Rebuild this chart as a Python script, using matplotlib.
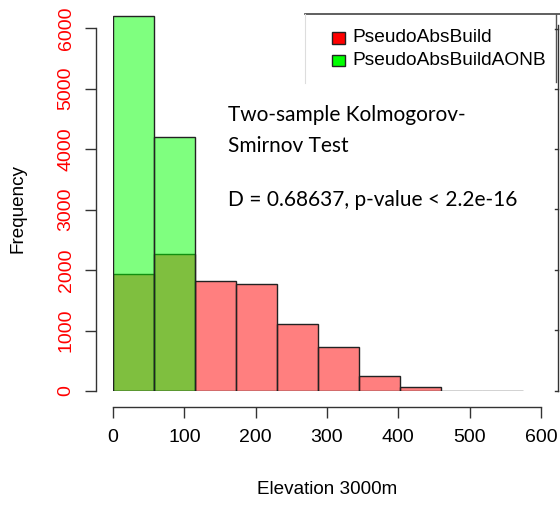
import matplotlib
matplotlib.use("Agg")
import matplotlib.pyplot as plt
from matplotlib.lines import Line2D
from matplotlib.patches import Rectangle

# ---- data ----
bin_edges = [0, 57.5, 115, 172.5, 230, 287.5, 345, 402.5, 460, 517.5, 575]
red_counts = [1940, 2271, 1825, 1769, 1114, 727, 254, 72, 0, 0]
green_counts = [6205, 4198]
x_ticks = [0, 100, 200, 300, 400, 500, 600]
y_ticks = [0, 1000, 2000, 3000, 4000, 5000, 6000]
series_names = ["PseudoAbsBuild", "PseudoAbsBuildAONB"]
x_label = "Elevation 3000m"
y_label = "Frequency"
annot_lines = ["Two-sample Kolmogorov-", "Smirnov Test", "", "D = 0.68637, p-value < 2.2e-16"]

W, H = 560, 505
fig = plt.figure(figsize=(W / 100, H / 100), dpi=100)
plt.rcParams['font.family'] = ['Liberation Sans', 'DejaVu Sans']

# axes: x 0..600 -> px 113..541 ; y 0 -> px 391, 1000 per 60.5 px
ymax = 6300
left_px, right_px = 113, 541
bottom_px = 391
top_px = bottom_px - ymax / 1000 * 60.5
ax = fig.add_axes([left_px / W, 1 - bottom_px / H, (right_px - left_px) / W, (bottom_px - top_px) / H])
ax.set_xlim(0, 600)
ax.set_ylim(0, ymax)
ax.patch.set_alpha(0)

widths = [bin_edges[i + 1] - bin_edges[i] for i in range(len(bin_edges) - 1)]
ax.bar(bin_edges[:-1], red_counts, width=widths, align='edge',
       color=(1, 0, 0, 0.5), edgecolor='#222222', linewidth=1.0)
ax.bar(bin_edges[:len(green_counts)], green_counts, width=widths[:len(green_counts)], align='edge',
       color=(0, 1, 0, 0.5), edgecolor='#222222', linewidth=1.0)

for s in ['top', 'right']:
    ax.spines[s].set_visible(False)
ax.spines['left'].set_position(('outward', 12.2))
ax.spines['bottom'].set_position(('outward', 11.5))
ax.spines['left'].set_bounds(0, 6000)
ax.spines['bottom'].set_bounds(0, 600)
for s in ['left', 'bottom']:
    ax.spines[s].set_color('#333333')
    ax.spines[s].set_linewidth(1.0)

ax.set_xticks(x_ticks)
ax.set_xticklabels([str(v) for v in x_ticks], fontsize=14)
ax.set_yticks(y_ticks)
ax.set_yticklabels([str(v) for v in y_ticks], fontsize=14, rotation=90, va='center', color='red')
ax.tick_params(axis='both', length=8, width=1.0, color='#333333')
ax.tick_params(axis='x', pad=8)
ax.tick_params(axis='y', pad=7.5)

fig.text(327 / W, 1 - 490 / H, x_label, ha='center', va='center', fontsize=13.6)
fig.text(18 / W, 1 - 209 / H, y_label, ha='center', va='center', fontsize=13.6, rotation=90)

# legend box (partially visible, as in reference)
fig.add_artist(Line2D([305 / W, 1], [1 - 14 / H, 1 - 14 / H], color='#444444', lw=1.2))
fig.add_artist(Line2D([305 / W, 305 / W], [1 - 14 / H, 1 - 83 / H], color='#dddddd', lw=0.8))
fig.add_artist(Line2D([555.7 / W, 555.7 / W], [1 - 14 / H, 1 - 82 / H], color='#555555', lw=1.0))
leg_colors = ['#ff0000', '#00ff00']
for i, (name, c) in enumerate(zip(series_names, leg_colors)):
    yc = 38 + i * 22.5
    fig.add_artist(Rectangle((332 / W, 1 - (yc + 5.5) / H), 13 / W, 11 / H,
                             facecolor=c, edgecolor='#222222', lw=1.0, transform=fig.transFigure))
    fig.text(352 / W, 1 - yc / H, name, ha='left', va='center', fontsize=13.8)

# right-edge axis fragment of a neighbouring plot
fig.add_artist(Line2D([558 / W, 558 / W], [1 - 25 / H, 1 - 391 / H], color='#333333', lw=1.0))
for yp in [29, 89, 149, 209, 269.5, 330, 391]:
    fig.add_artist(Line2D([555 / W, 558 / W], [1 - yp / H, 1 - yp / H], color='#333333', lw=1.0))

# annotation
ann_y = [115, 146, 173, 200]
for t, yp in zip(annot_lines, ann_y):
    if t:
        fig.text(228 / W, 1 - yp / H, t, ha='left', va='center', fontsize=15,
                 family=['Lato', 'DejaVu Sans'])

fig.savefig("out.png", dpi=100)
